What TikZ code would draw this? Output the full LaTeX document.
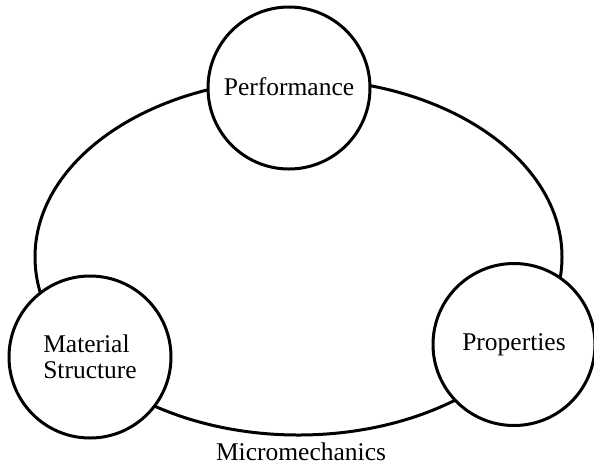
\documentclass[tikz,border=0pt]{standalone}
\usepackage{fontspec}
\setmainfont{Liberation Serif}
\usetikzlibrary{shapes.geometric}
\begin{document}
\begin{tikzpicture}[x=1pt,y=-1pt,
  ring/.style={draw, line width=3pt, ellipse, inner sep=0pt},
  stage/.style={draw, line width=3pt, circle, fill=white, inner sep=0pt,
    minimum size=162pt, font=\fontsize{25.5}{26.5}\selectfont},
  caption/.style={font=\fontsize{25.5}{26.5}\selectfont, inner sep=0pt}]
  \useasboundingbox (0,0) rectangle (594,467);
  \clip (0,0) rectangle (594,467);
  % outer cycle linking the three stages
  \node[ring, minimum width=527pt, minimum height=356pt] (cycle) at (298.5,257) {};
  % the three stages
  \node[stage] (perf) at (289,88) {\raisebox{3pt}{Performance}};
  \node[stage, align=left] (mat) at (90,357) {Material\\Structure};
  \node[stage] (prop) at (514,344.5) {Properties};
  % label under the cycle
  \node[caption, anchor=base] (micro) at (301,460) {Micromechanics};
\end{tikzpicture}
\end{document}
